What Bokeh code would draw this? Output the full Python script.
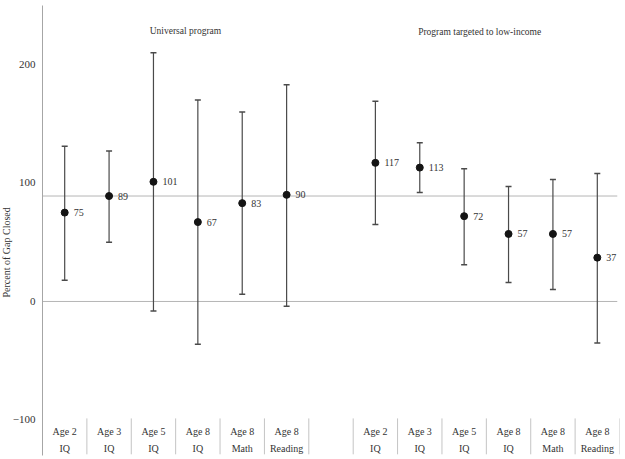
from bokeh.plotting import figure
from bokeh.models import Range1d, ColumnDataSource, Title, FixedTicker
from bokeh.embed import file_html
from bokeh.resources import INLINE
from bokeh.core.properties import value

# ---- data ----
group_titles = ["Universal program", "Program targeted to low-income"]
ages = ["Age 2", "Age 3", "Age 5", "Age 8", "Age 8", "Age 8"]
outcomes = ["IQ", "IQ", "IQ", "IQ", "Math", "Reading"]
universal_est = [75, 89, 101, 67, 83, 90]
universal_lo = [18, 50, -8, -36, 6, -4]
universal_hi = [131, 127, 210, 170, 160, 183]
targeted_est = [117, 113, 72, 57, 57, 37]
targeted_lo = [65, 92, 31, 16, 10, -35]
targeted_hi = [169, 134, 112, 97, 103, 108]
reference_value = 89
y_ticks = [-100, 0, 100, 200]

FONT = value("Liberation Serif")
TXT = "#333333"

# slot positions: 6 universal, one empty slot, 6 targeted
n = len(ages)
x_univ = [0.5 + i for i in range(n)]
x_targ = [n + 1.5 + i for i in range(n)]
n_slots = 2 * n + 1

xs = x_univ + x_targ
est = universal_est + targeted_est
lo = universal_lo + targeted_lo
hi = universal_hi + targeted_hi
src = ColumnDataSource(dict(x=xs, est=est, lo=lo, hi=hi,
                            lbl=[str(v) for v in est],
                            age=ages + ages, outc=outcomes + outcomes))

W, H = 621, 457
p = figure(width=W, height=H, output_backend="svg", toolbar_location=None,
           x_range=Range1d(0, n_slots), y_range=Range1d(-130, 249.8),
           x_axis_location=None, min_border_left=42, min_border_right=2,
           min_border_top=5, min_border_bottom=2)
p.outline_line_color = None
p.xgrid.visible = False
p.ygrid.visible = False

ax = p.yaxis[0]
ax.ticker = FixedTicker(ticks=y_ticks)
ax.axis_line_color = "#a6a6a6"
ax.axis_line_width = 1
ax.major_tick_line_color = None
ax.minor_tick_line_color = None
ax.major_tick_out = 0
ax.major_tick_in = 0
ax.major_label_standoff = 7
ax.major_label_text_font = "Liberation Serif"
ax.major_label_text_font_size = "11px"
ax.major_label_text_color = TXT

# horizontal reference lines at 0 and reference value
p.segment(x0=[0, 0], y0=[0, reference_value], x1=[n_slots - 0.05] * 2,
          y1=[0, reference_value], line_color="#b5b5b5", line_width=1)

# error bars
p.segment(x0="x", y0="lo", x1="x", y1="hi", source=src, line_color="#4a4a4a", line_width=1.2)
p.dash(x="x", y="hi", source=src, size=6, line_color="#4a4a4a", line_width=1.5)
p.dash(x="x", y="lo", source=src, size=6, line_color="#4a4a4a", line_width=1.5)

# points
p.scatter(x="x", y="est", source=src, size=7, fill_color="#141414", line_color="#141414")
p.text(x="x", y="est", text="lbl", source=src, x_offset=9, text_align="left",
       text_baseline="middle", text_font=FONT, text_font_size="10px", text_color=TXT)

# category axis
bounds = list(range(1, n_slots + 1))
p.segment(x0=bounds, y0=[-98.7] * len(bounds), x1=bounds, y1=[-129] * len(bounds),
          line_color="#c4c4c4", line_width=1)
p.text(x="x", y=-109.7, text="age", source=src, text_align="center", text_baseline="middle",
       text_font=FONT, text_font_size="10px", text_color=TXT)
p.text(x="x", y=-124, text="outc", source=src, text_align="center", text_baseline="middle",
       text_font=FONT, text_font_size="10px", text_color=TXT)

# panel titles
p.text(x=[3.22, 9.85], y=[228.7, 227.8], text=group_titles, text_align="center",
       text_baseline="middle", text_font=FONT, text_font_size="9.5px", text_color=TXT)

# y axis title (as a left-side title)
p.add_layout(Title(text="Percent of Gap Closed", align="left", offset=158, standoff=-4,
                   text_font="Liberation Serif", text_font_size="10px",
                   text_font_style="normal", text_color=TXT), "left")

open("out.html", "w").write(file_html(p, INLINE))
